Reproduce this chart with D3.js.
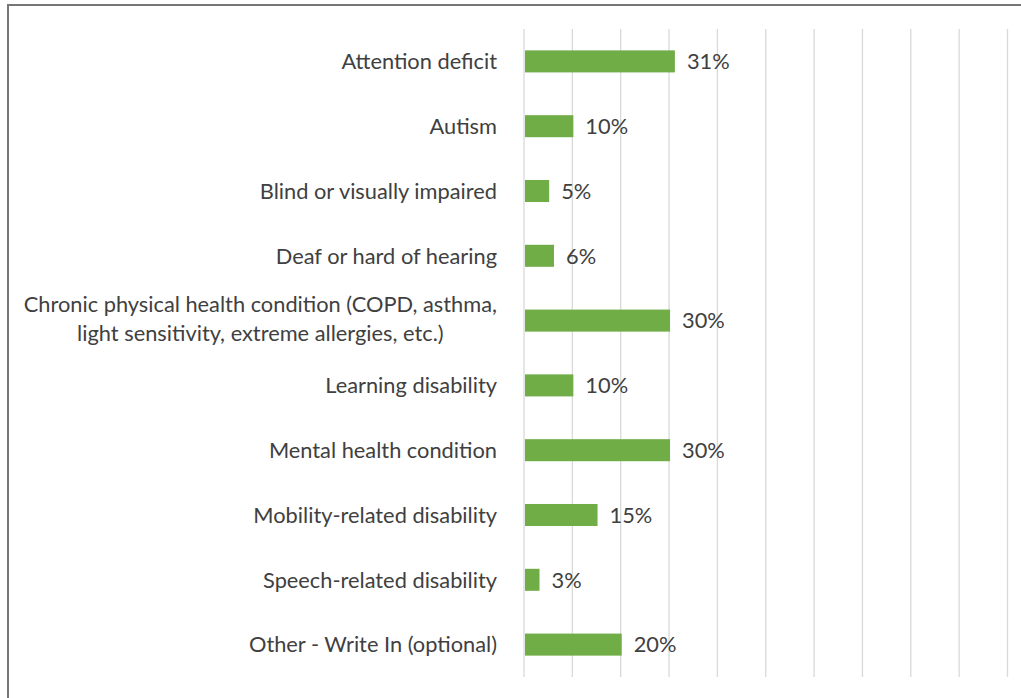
<!DOCTYPE html>
<html>
<head>
<meta charset="utf-8">
<script src="https://cdn.jsdelivr.net/npm/d3@7"></script>
<style>
  body { margin: 0; background: #fff; }
  svg { display: block; }
</style>
</head>
<body>
<div class="grafico"></div>
<script>
var categorias = [
  ['Attention deficit'],
  ['Autism'],
  ['Blind or visually impaired'],
  ['Deaf or hard of hearing'],
  ['Chronic physical health condition (COPD, asthma,', 'light sensitivity, extreme allergies, etc.)'],
  ['Learning disability'],
  ['Mental health condition'],
  ['Mobility-related disability'],
  ['Speech-related disability'],
  ['Other - Write In (optional)']
];
var valores = [31, 10, 5, 6, 30, 10, 30, 15, 3, 20];
var marcas = [0, 10, 20, 30, 40, 50, 60, 70, 80, 90, 100];

var fuente = 'Lato, "Open Sans", sans-serif';
var tam = 21.8;

var svg = d3.select('.grafico')
  .append('svg')
  .attr('width', 1021)
  .attr('height', 698);

// marco gris
svg.append('rect')
  .attr('x', 8)
  .attr('y', 5)
  .attr('width', 1030)
  .attr('height', 720)
  .attr('fill', 'none')
  .attr('stroke', '#767676')
  .attr('stroke-width', 2);

const xScale = d3.scaleLinear()
  .domain([0, 100])
  .range([524, 1007.5]);

const yScale = d3.scaleBand()
  .domain(d3.range(categorias.length))
  .range([29, 677])
  .paddingInner(0.66)
  .paddingOuter(0.33);

// lineas verticales
svg.append('g')
  .selectAll('line')
  .data(marcas)
  .enter()
  .append('line')
  .attr('x1', d => xScale(d))
  .attr('x2', d => xScale(d))
  .attr('y1', 29)
  .attr('y2', 677)
  .attr('stroke', '#d9d9d9')
  .attr('stroke-width', 1.3);

svg.append('g')
  .selectAll('rect')
  .data(valores)
  .enter()
  .append('rect')
  .attr('x', xScale(0) + 1)
  .attr('y', (d, i) => yScale(i))
  .attr('width', d => xScale(d) - xScale(0))
  .attr('height', yScale.bandwidth())
  .attr('fill', '#70ad47');

// etiquetas de valor
svg.append('g')
  .selectAll('text')
  .data(valores)
  .enter()
  .append('text')
  .attr('x', d => xScale(d) + 13)
  .attr('y', (d, i) => yScale(i) + yScale.bandwidth() / 2)
  .attr('dy', '0.36em')
  .attr('font-family', fuente)
  .attr('font-size', tam)
  .attr('fill', '#404040')
  .text(d => d + '%');

// categorias
var etiquetas = svg.append('g')
  .selectAll('text')
  .data(categorias)
  .enter()
  .append('text')
  .attr('font-family', fuente)
  .attr('font-size', tam)
  .attr('fill', '#404040');

etiquetas.each(function (d, i) {
  var t = d3.select(this);
  var centro = yScale(i) + yScale.bandwidth() / 2;
  if (d.length === 1) {
    t.attr('x', 497)
      .attr('y', centro)
      .attr('dy', '0.36em')
      .attr('text-anchor', 'end')
      .text(d[0]);
    return;
  }
  // varias lineas: centradas, la mas larga alineada a la derecha
  var lineas = d.map(function (linea, j) {
    return t.append('tspan')
      .attr('y', centro + 0.36 * tam + (j - (d.length - 1) / 2) * 29 - 2)
      .attr('text-anchor', 'middle')
      .text(linea);
  });
  var anchoMax = d3.max(lineas, s => s.node().getComputedTextLength());
  lineas.forEach(s => s.attr('x', 497 - anchoMax / 2));
});
</script>
</body>
</html>
